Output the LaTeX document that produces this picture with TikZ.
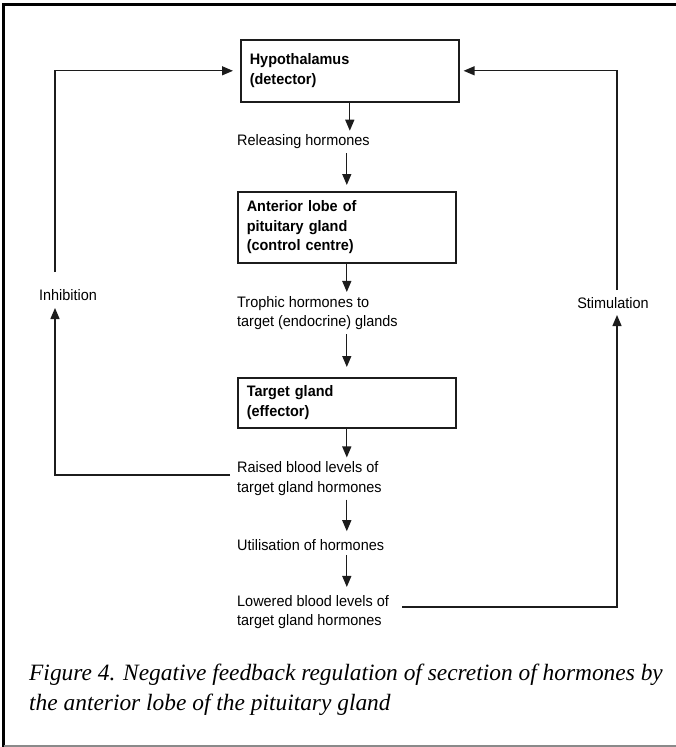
\documentclass[tikz,border=0pt]{standalone}
\usepackage{fontspec}
\setmainfont{Liberation Sans}[FakeStretch=0.95]
\newfontfamily\captionFont{Liberation Serif}
\usepackage{tikz}
\usetikzlibrary{arrows.meta, positioning, calc}

\definecolor{inkBlack}{HTML}{1C1C1C}
\definecolor{rimGray}{HTML}{8A8A8A}

\tikzset{
    % Common
    flowArrow/.style={-{Triangle[width=9pt,length=11pt]}, line width=1.3pt, draw=inkBlack},
    frameLine/.style={draw=black, line width=3pt},
    % Box Styles
    organBox/.style={
        rectangle, draw=inkBlack, line width=1.6pt, anchor=north west,
        text width=200pt, align=left, inner xsep=9pt, inner ysep=0pt,
        font=\fontsize{15.2}{19.5}\selectfont\bfseries
    },
    % Text Styles
    stageText/.style={anchor=west, align=left, inner xsep=0pt, inner ysep=4pt, font=\fontsize{15.2}{19.5}\selectfont},
    sideLabel/.style={inner sep=0pt, font=\fontsize{15.2}{19.5}\selectfont},
    captionText/.style={anchor=north west, align=left, inner sep=0pt, font=\captionFont\itshape\fontsize{23.4}{30}\selectfont}
}

\begin{document}
\begin{tikzpicture}[x=1pt, y=-1pt]
    \useasboundingbox (0,0) rectangle (676,747);

    % Frame
    \draw[frameLine] (676,4) -- (3.5,4) -- (3.5,747);
    \draw[rimGray, line width=1.5pt] (3.5,746) -- (676,746);

    % Boxes
    \node[organBox, minimum height=62pt] (hyp) at (240,39) {Hypothalamus\\(detector)};
    \node[organBox, minimum height=71pt] (ant) at (237,191) {Anterior lobe of\\pituitary gland\\(control centre)};
    \node[organBox, minimum height=50pt] (tgt) at (237,377) {Target gland\\(effector)};

    % Stage texts
    \node[stageText] (rel) at (237,142) {Releasing hormones};
    \node[stageText] (troph) at (237,313) {Trophic hormones to\\target (endocrine) glands};
    \node[stageText] (raised) at (237,478.5) {Raised blood levels of\\target gland hormones};
    \node[stageText] (util) at (237,545) {Utilisation of hormones};
    \node[stageText] (lowered) at (237,612) {Lowered blood levels of\\target gland hormones};

    % Feedback labels
    \node[sideLabel] (inhib) at (68,295) {Inhibition};
    \node[sideLabel] (stim) at (613,303) {Stimulation};
    \coordinate (inhibIn) at (55,308);
    \coordinate (inhibOut) at (55,272);
    \coordinate (stimIn) at (617,315);
    \coordinate (stimOut) at (617,290);

    % Main chain
    \draw[flowArrow] (hyp.south) -- (hyp.south |- rel.north);
    \draw[flowArrow, shorten >=6pt] (ant.north |- rel.south) -- (ant.north);
    \draw[flowArrow] (ant.south) -- (ant.south |- troph.north);
    \draw[flowArrow, shorten >=10pt] (tgt.north |- troph.south) -- (tgt.north);
    \draw[flowArrow] (tgt.south) -- (tgt.south |- raised.north);
    \draw[flowArrow, shorten >=4pt] (tgt.south |- raised.south) -- (tgt.south |- util.north);
    \draw[flowArrow, shorten >=4pt] (tgt.south |- util.south) -- (tgt.south |- lowered.north);

    % Feedback loops
    \draw[flowArrow, shorten <=7pt] ([yshift=3.5pt]raised.west) -| (inhibIn);
    \draw[flowArrow, shorten >=7pt] (inhibOut) |- (hyp.west);
    \draw[flowArrow, shorten <=13pt] ([yshift=5pt]lowered.east) -| (stimIn);
    \draw[flowArrow, shorten >=4pt] (stimOut) |- (hyp.east);

    % Caption
    \node[captionText] (cap) at (29,664) {Figure 4. Negative feedback regulation of secretion of hormones by\\the anterior lobe of the pituitary gland};
\end{tikzpicture}
\end{document}
